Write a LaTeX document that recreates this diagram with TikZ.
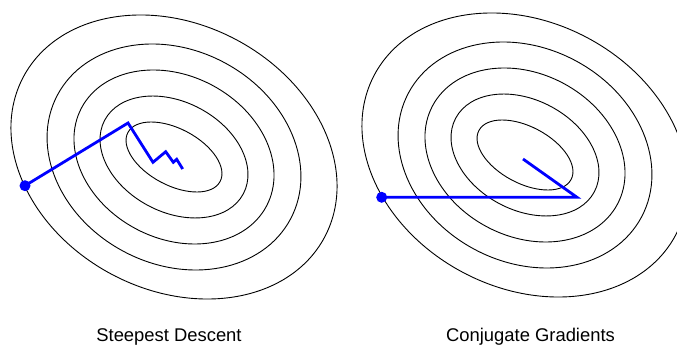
\documentclass[tikz,border=0pt]{standalone}
\usepackage{fontspec}
\setmainfont{Liberation Sans}
\begin{document}
\begin{tikzpicture}[x=1pt,y=1pt,
  contour/.style={draw=black, line width=0.9pt},
  pathline/.style={draw=blue, line width=2.8pt},
  startdot/.style={circle, fill=blue, inner sep=0pt, minimum size=11pt},
  caption/.style={font=\fontsize{18.4}{22}\selectfont, anchor=base, inner sep=0pt}]
\useasboundingbox (0,0) rectangle (677,345);
\begin{scope}
\clip (0,0) rectangle (677,345);
\foreach \a/\b in {170.6/132.8, 132/107, 104.7/81.3, 78.5/55, 52.2/28.3} {
  \draw[contour] (174,188) circle [x radius=\a, y radius=\b, rotate=-28];
  \draw[contour] (525,190) circle [x radius=\a, y radius=\b, rotate=-28];
}
\end{scope}
% steepest descent path
\coordinate (s1) at (128,222);
\coordinate (s2) at (153,182.7);
\coordinate (s3) at (165.7,193.3);
\coordinate (s4) at (173.3,182.7);
\coordinate (s5) at (176.7,185.7);
\coordinate (s6) at (182.7,176);
\node[startdot] (s0) at (25,159.3) {};
\draw[pathline] (s0.center) -- (s1) -- (s2) -- (s3) -- (s4) -- (s5) -- (s6);
% conjugate gradients path
\coordinate (c1) at (577,147.7);
\coordinate (c2) at (523,186);
\node[startdot] (c0) at (381.7,147.7) {};
\draw[pathline] (c0.center) -- (c1) -- (c2);
% captions
\node[caption] (capl) at (169,3) {Steepest Descent};
\node[caption] (capr) at (530.5,3) {Conjugate Gradients};
\end{tikzpicture}
\end{document}
